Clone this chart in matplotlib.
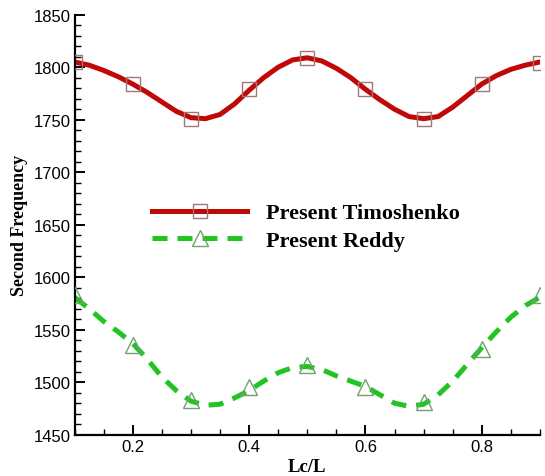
import matplotlib
matplotlib.use("Agg")
import matplotlib.pyplot as plt
from matplotlib.ticker import MultipleLocator

# marker points
lc_marks = [0.1, 0.2, 0.3, 0.4, 0.5, 0.6, 0.7, 0.8, 0.9]
timo_marks = [1805, 1784, 1751, 1779, 1809, 1779, 1751, 1784, 1804]
reddy_marks = [1583, 1535, 1483, 1495, 1516, 1495, 1481, 1532, 1583]

# curves
lc_curve = [0.1, 0.125, 0.15, 0.175, 0.2, 0.225, 0.25, 0.275, 0.3,
            0.325, 0.35, 0.375, 0.4, 0.425, 0.45, 0.475, 0.5,
            0.525, 0.55, 0.575, 0.6, 0.625, 0.65, 0.675, 0.7,
            0.725, 0.75, 0.775, 0.8, 0.825, 0.85, 0.875, 0.9]
timo_curve = [1805, 1802, 1797, 1791, 1784, 1776, 1767, 1758, 1752,
              1751, 1755, 1765, 1778, 1790, 1800, 1807, 1809,
              1806, 1799, 1790, 1779, 1769, 1760, 1753, 1751,
              1753, 1762, 1773, 1784, 1792, 1798, 1802, 1805]
reddy_curve = [1581, 1570, 1558, 1548, 1537, 1522, 1505, 1492, 1482,
               1478, 1479, 1485, 1492, 1501, 1509, 1514, 1515,
               1512, 1506, 1501, 1496, 1488, 1480, 1477, 1479,
               1488, 1501, 1517, 1533, 1548, 1562, 1573, 1581]

red = "#C00808"
green = "#22C422"

fig = plt.figure(figsize=(5.45, 4.77), dpi=100)
ax = fig.add_axes([0.1367, 0.0866, 0.8541, 0.8804])

ax.plot(lc_curve, timo_curve, color=red, lw=3.6, zorder=2)
ax.plot(lc_marks, timo_marks, ls="none", marker="s", ms=10, mfc="none",
        mec="#A07878", mew=1.0, zorder=3)
ax.plot(lc_curve, reddy_curve, color=green, lw=3.6, ls=(0, (3.0, 2.0)), zorder=2)
ax.plot(lc_marks, reddy_marks, ls="none", marker="^", ms=11, mfc="none",
        mec="#70A070", mew=1.0, zorder=3)

# legend handles
h1, = ax.plot([], [], color=red, lw=3.6, marker="s", ms=10, mfc="none", mec="#A07878", mew=1.0)
h2, = ax.plot([], [], color=green, lw=3.6, ls=(0, (3.0, 2.0)), marker="^", ms=11,
              mfc="none", mec="#70A070", mew=1.0)
ax.legend([h1, h2], ["Present Timoshenko", "Present Reddy"], loc="center left",
          bbox_to_anchor=(0.166, 0.495), frameon=False, handlelength=4.3, handletextpad=0.85,
          borderpad=0, borderaxespad=0, labelspacing=0.3,
          prop={"family": "Liberation Serif", "weight": "bold", "size": 16})

ax.set_xlim(0.1, 0.9)
ax.set_ylim(1450, 1850)
ax.xaxis.set_major_locator(MultipleLocator(0.2))
ax.xaxis.set_minor_locator(MultipleLocator(0.05))
ax.yaxis.set_major_locator(MultipleLocator(50))
ax.yaxis.set_minor_locator(MultipleLocator(10))
ax.set_xticks([0.2, 0.4, 0.6, 0.8])

for s in ["top", "right"]:
    ax.spines[s].set_visible(False)
for s in ["left", "bottom"]:
    ax.spines[s].set_linewidth(1.6)

ax.tick_params(which="major", direction="in", length=7, width=1.4, labelsize=12, pad=3)
ax.tick_params(which="minor", direction="in", length=4, width=1.0)
for lab in ax.get_xticklabels() + ax.get_yticklabels():
    lab.set_family("Liberation Sans")

ax.set_xlabel("Lc/L", family="Liberation Serif", weight="bold", fontsize=13.5, labelpad=3)
ax.set_ylabel("Second Frequency", family="Liberation Serif", weight="bold", fontsize=13, labelpad=4)

fig.savefig("out.png", dpi=100)
